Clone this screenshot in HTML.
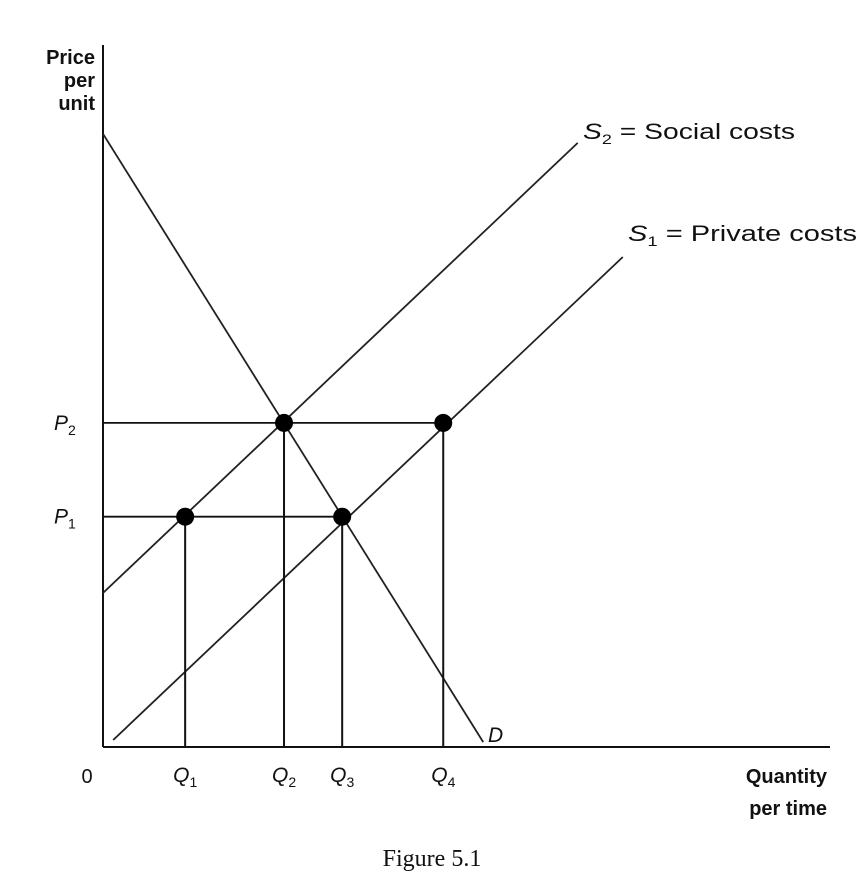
<!DOCTYPE html>
<html><head><meta charset="utf-8"><style>
html,body{margin:0;padding:0;background:#fff;}
svg{display:block;}
text{font-family:"Liberation Sans",Arial,sans-serif;fill:#111;}
</style></head><body>
<svg id="chart" width="865" height="876" viewBox="0 0 865 876" xmlns="http://www.w3.org/2000/svg">
<g id="axes"></g>
<g id="marks"></g>
<g id="labels">
<text x="95" y="64" text-anchor="end" font-weight="bold" font-size="20">Price</text>
<text x="95" y="87" text-anchor="end" font-weight="bold" font-size="20">per</text>
<text x="95" y="110" text-anchor="end" font-weight="bold" font-size="20">unit</text>
<text x="827" y="783" text-anchor="end" font-weight="bold" font-size="20">Quantity</text>
<text x="827" y="815" text-anchor="end" font-weight="bold" font-size="20">per time</text>
<text x="87" y="783" text-anchor="middle" font-size="20">0</text>
<text x="583" y="139" font-size="22" textLength="212" lengthAdjust="spacingAndGlyphs"><tspan font-style="italic">S</tspan><tspan font-size="14" dy="5">2</tspan><tspan dy="-5"> = Social costs</tspan></text>
<text x="628" y="241" font-size="22" textLength="229" lengthAdjust="spacingAndGlyphs"><tspan font-style="italic">S</tspan><tspan font-size="14" dy="5">1</tspan><tspan dy="-5"> = Private costs</tspan></text>
<text x="488" y="742" font-size="21" font-style="italic">D</text>
<text x="432" y="866" text-anchor="middle" font-size="24" style="font-family:'Liberation Serif',serif">Figure 5.1</text>
</g>
</svg>
<script>
const qNames = ["Q1","Q2","Q3","Q4"];
const qValues = [1.13, 2.49, 3.29, 4.68];
const pNames = ["P1","P2"];
const pValues = [3.29, 4.63];
const demandLine = [[0, 8.76], [5.23, 0.07]];
const socialLine = [[0, 2.2], [6.53, 8.63]];
const privateLine = [[0.14, 0.1], [7.15, 7.0]];
const points = [[2.49, 4.63], [4.68, 4.63], [1.13, 3.29], [3.29, 3.29]];

const X0 = 103, Y0 = 747;
function sx(q){ return X0 + q * 72.7; }
function sy(p){ return Y0 - p * 70; }
const NS = "http://www.w3.org/2000/svg";
function mk(tag, parent, attrs){
  const e = document.createElementNS(NS, tag);
  for (const k in attrs) e.setAttribute(k, attrs[k]);
  parent.appendChild(e); return e;
}
const axes = document.getElementById("axes");
const marks = document.getElementById("marks");
const labels = document.getElementById("labels");

let a = mk("line", axes, {x1:X0, y1:45, x2:X0, y2:Y0, stroke:"#111", "stroke-width":2});


a = mk("line", axes, {x1:X0, y1:Y0, x2:830, y2:Y0, stroke:"#111", "stroke-width":2});



function curve(pts, name){
  const l = mk("line", marks, {x1:sx(pts[0][0]), y1:sy(pts[0][1]), x2:sx(pts[1][0]), y2:sy(pts[1][1]), stroke:"#222", "stroke-width":1.8});
  
  
}
curve(demandLine, "demand-curve");
curve(socialLine, "social-cost-curve");
curve(privateLine, "private-cost-curve");

pValues.forEach((p, i) => {
  const maxQ = Math.max(...points.filter(pt => pt[1] === p).map(pt => pt[0]));
  const l = mk("line", marks, {x1:X0, y1:sy(p), x2:sx(maxQ), y2:sy(p), stroke:"#111", "stroke-width":1.8});
  
  
  const t = mk("text", labels, {x:X0 - 49, y:sy(p) + 7, "font-size":21, "font-style":"italic"});
  
  
  t.innerHTML = 'P<tspan font-size="14" dy="5" font-style="normal">' + pNames[i].slice(1) + '</tspan>';
});
qValues.forEach((q, i) => {
  const pt = points.find(pp => pp[0] === q);
  const l = mk("line", marks, {x1:sx(q), y1:sy(pt[1]), x2:sx(q), y2:Y0, stroke:"#111", "stroke-width":2});
  
  
  const t = mk("text", labels, {x:sx(q) - 12, y:782, "font-size":21, "font-style":"italic"});
  
  
  t.innerHTML = 'Q<tspan font-size="14" dy="5" font-style="normal">' + qNames[i].slice(1) + '</tspan>';
});
points.forEach((pt, i) => {
  const c = mk("circle", marks, {cx:sx(pt[0]), cy:sy(pt[1]), r:9, fill:"#000"});
  
  
});
</script>
</body></html>
